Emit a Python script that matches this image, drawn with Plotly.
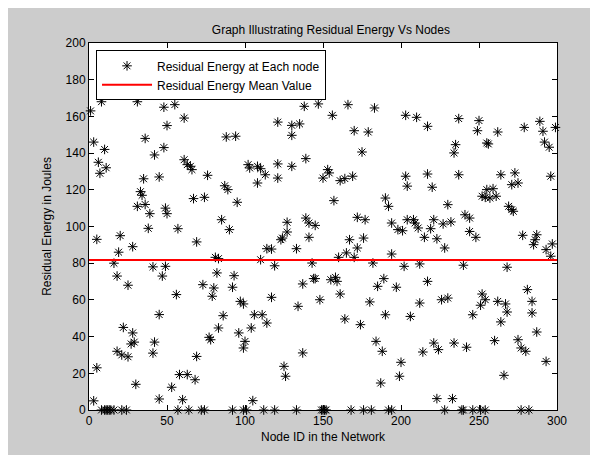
import plotly.graph_objects as go

# Residual energy per node (node id, energy in Joules)
node_ids = [
    1, 3, 3, 5, 5, 6, 7, 8, 10, 11, 16, 18, 18, 19, 20, 21, 22, 25, 25, 27, 28, 28, 29, 30,
    31, 31, 33, 34, 35, 36, 36, 38, 39, 41, 41, 42, 42, 45, 45, 45, 47, 48, 48, 49, 50, 50,
    8, 10, 11, 12, 13, 14, 16, 21, 24,
    55, 61, 88, 94, 102, 61, 63, 65, 66, 76, 87, 89, 95, 67, 74, 85, 90, 57, 69, 81, 83, 49,
    82, 93, 73, 80, 92, 79, 97, 99, 56, 86, 83, 77, 78, 96, 100, 99, 69, 58, 63, 68, 53, 60,
    57, 64, 72, 74, 92, 99,
    138, 147, 121, 130, 135, 130, 103, 108, 110, 113, 121, 130, 139, 150, 108, 121, 139, 141,
    145, 127, 127, 124, 123, 141, 114, 117, 133, 110, 119, 143, 144, 145, 137, 117, 148, 134,
    106, 111, 114, 104, 137, 125, 126, 105,
    101, 112, 119, 133, 149, 150, 151,
    166, 183, 156, 203, 170, 179, 175, 153, 154, 161, 164, 169, 203, 204, 157, 190, 192, 172,
    177, 194, 198, 201, 204, 167, 176, 172, 165, 160, 170, 194, 182, 202, 155, 158, 159, 189,
    185, 197, 161, 180, 164, 174, 190, 184, 188, 200, 199, 187,
    152, 168, 176, 181, 192, 194,
    210, 217, 237, 250, 249, 235, 234, 255, 217, 220, 237, 255, 252, 254, 230, 208, 209, 211,
    221, 227, 232, 241, 244, 219, 244, 248, 215, 223, 228, 212, 240, 217, 226, 230, 252, 254,
    251, 212, 246, 206, 221, 224, 234, 242, 214, 223, 233,
    228, 239, 240, 246, 251,
    289, 291, 279, 299, 262, 256, 292, 295, 264, 273, 275, 271, 296, 259, 257, 261, 269, 271,
    272, 278, 287, 286, 285, 297, 293, 296, 268, 281, 262, 267, 268, 284, 284, 264, 287, 260,
    275, 277, 280, 293, 266,
    254, 277, 282,
]

residual_energy = [
    163, 146, 5, 93, 23, 135, 129, 168, 142, 132, 80, 73, 32, 86, 95, 30, 45, 68, 29, 36, 89, 42, 37, 14,
    168, 111, 119, 117, 126, 148, 112, 99, 107, 78, 31, 139, 37, 127, 52, 6, 73, 165, 143, 110, 155, 107,
    0, 0, 0, 0, 0, 0, 0, 0, 0,
    166.4, 159.1, 148.8, 149.2, 133.7, 136.4, 133.7, 132.8, 131, 127.9, 122.2, 120.1, 113.2, 115.2, 115.9, 103.7, 98.3, 98.8, 91.6, 83.2, 82.5, 78.3,
    74.7, 73.2, 68.3, 66.5, 66.9, 62, 59.2, 57.8, 62.9, 51.4, 44.7, 39.6, 38.3, 42, 37.4, 33.8, 29.2, 19.3, 19.3, 16.5, 12.4, 5.6,
    0, 0, 0, 0, 0, 0,
    165.5, 166.8, 156.9, 155.1, 155.9, 149.7, 131.9, 132.8, 131.5, 128.2, 134.1, 132.8, 137, 126.4, 123.7, 126.4, 104.6, 101.9,
    100.6, 102.3, 97, 93.7, 92.8, 94.1, 87.9, 87.7, 87.9, 81.9, 78.6, 80.1, 71.6, 71.6, 68.7, 61.4, 60.1, 56.5,
    51.9, 51.9, 47.4, 44.7, 31.1, 23.8, 18.4, 5.1,
    0, 0, 0, 0, 0, 0, 0,
    166.4, 164.6, 160.6, 160.6, 152.2, 151.5, 140.6, 131, 129.2, 125, 126.1, 127.4, 127.4, 122, 114.1, 115.5, 111, 105,
    103.7, 101.9, 98.3, 97.7, 103.7, 92.8, 93.7, 88.3, 85.6, 83.2, 83.2, 85, 80.1, 78.3, 71, 72.3, 70.1, 71.6,
    67.4, 66.9, 63.2, 58.9, 49.6, 46.5, 51.9, 37.4, 32, 26, 18.4, 14.7,
    0, 0, 0, 0, 0, 0,
    159.5, 154.6, 158.8, 157.7, 152.2, 144.6, 140.1, 145.5, 128.6, 121.4, 128.2, 120.1, 116.5, 115.9, 111.9, 103.7, 101.9, 99.2,
    103.7, 101.4, 102.5, 106.4, 104.6, 98.8, 97.3, 94.1, 94.1, 93.3, 88.3, 79.6, 78.9, 70.1, 60.1, 61, 63.2, 60.1,
    57.1, 58.3, 51.9, 51, 36.5, 32.9, 36.5, 34.2, 31.6, 6.2, 6.2,
    0, 0, 0, 0, 0,
    157.3, 151.9, 154, 154, 151.5, 145, 146, 143.2, 128.2, 129.2, 123.7, 122.8, 127.4, 120.6, 115.5, 116.5, 111, 109.2,
    108.3, 95.2, 95.5, 92.8, 90.1, 90.5, 87.4, 83.8, 77.8, 65.6, 59.2, 57.8, 53.4, 59.2, 52.9, 48, 42.5, 37.8,
    38.3, 33.8, 32, 26.5, 18.9,
    0, 0, 0,
]

mean_value = 81.7
mean_line_x = [0, 300]

x_ticks = [0, 50, 100, 150, 200, 250, 300]
y_ticks = [0, 20, 40, 60, 80, 100, 120, 140, 160, 180, 200]

font_family = "Liberation Sans, Arial, sans-serif"

fig = go.Figure()
fig.add_trace(go.Scatter(
    x=node_ids, y=residual_energy, mode="markers",
    name="Residual Energy at Each node",
    marker=dict(symbol="asterisk-open", size=8, color="black",
                line=dict(color="black", width=1)),
    cliponaxis=False,
))
fig.add_trace(go.Scatter(
    x=mean_line_x, y=[mean_value, mean_value], mode="lines",
    name="Residual Energy Mean Value",
    line=dict(color="red", width=2),
))

axis_common = dict(
    showgrid=False, zeroline=False, showline=True, linecolor="black", linewidth=1,
    mirror="ticks", ticks="inside", ticklen=5, tickcolor="black",
    tickfont=dict(size=12, color="black", family=font_family),
)

fig.update_layout(
    width=598, height=455,
    paper_bgcolor="#cccccc", plot_bgcolor="white",
    margin=dict(l=81, r=49, t=35, b=53),
    font=dict(family=font_family, size=12, color="black"),
    title=dict(text="Graph Illustrating Residual Energy Vs Nodes",
               x=0.54, xanchor="center", y=0.952, yanchor="middle",
               font=dict(size=12, color="black", family=font_family)),
    xaxis=dict(range=[0, 300], tickvals=x_ticks,
               title=dict(text="Node ID in the Network", standoff=5,
                          font=dict(size=12, color="black")),
               **axis_common),
    yaxis=dict(range=[0, 200], tickvals=y_ticks,
               title=dict(text="Residual Energy in Joules", standoff=11,
                          font=dict(size=12, color="black")),
               **axis_common),
    legend=dict(x=0.015, y=0.98, xanchor="left", yanchor="top",
                bgcolor="white", bordercolor="black", borderwidth=1,
                font=dict(size=12, color="black", family=font_family),
                itemwidth=50, tracegroupgap=0),
    showlegend=True,
)

fig.write_html("out.html")
